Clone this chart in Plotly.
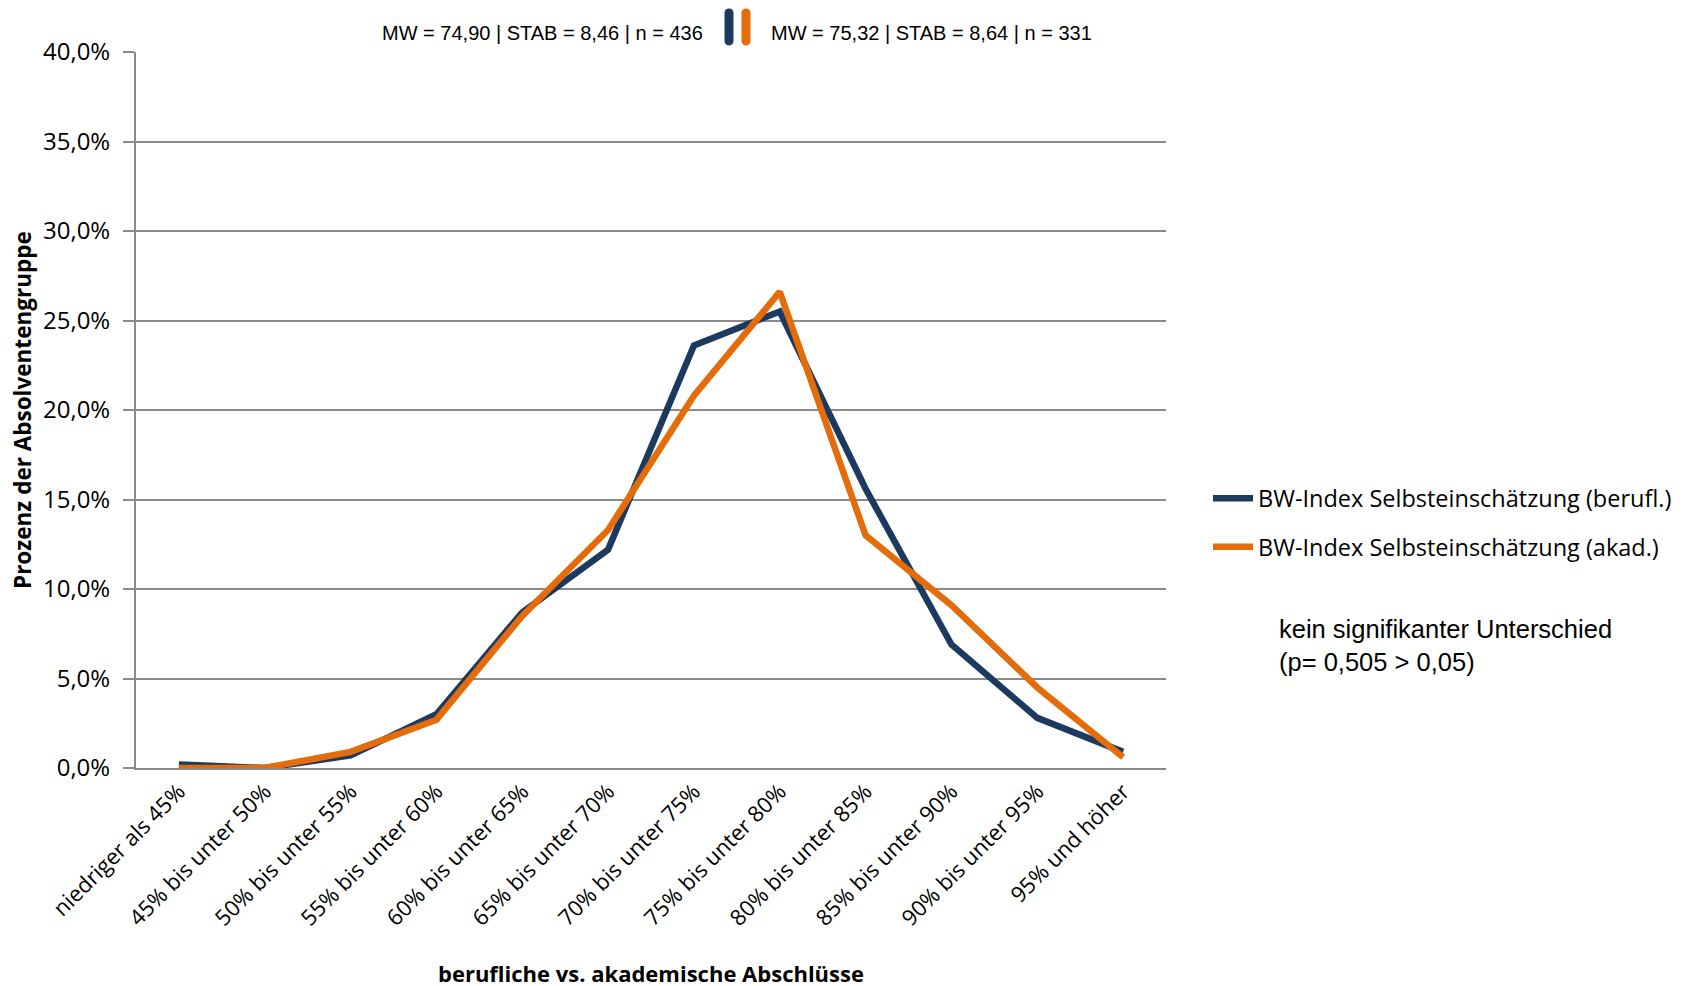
import plotly.graph_objects as go

categories = ["niedriger als 45%", "45% bis unter 50%", "50% bis unter 55%", "55% bis unter 60%",
              "60% bis unter 65%", "65% bis unter 70%", "70% bis unter 75%", "75% bis unter 80%",
              "80% bis unter 85%", "85% bis unter 90%", "90% bis unter 95%", "95% und höher"]
berufl = [0.2, 0.0, 0.7, 3.0, 8.7, 12.2, 23.6, 25.5, 15.6, 6.9, 2.8, 0.9]
akad = [0.0, 0.0, 0.9, 2.7, 8.5, 13.3, 20.8, 26.6, 13.0, 9.1, 4.5, 0.6]
name_berufl = "BW-Index Selbsteinschätzung (berufl.)"
name_akad = "BW-Index Selbsteinschätzung (akad.)"
stats_berufl = "MW = 74,90 | STAB = 8,46 | n = 436"
stats_akad = "MW = 75,32 | STAB = 8,64 | n = 331"
note = "kein signifikanter Unterschied<br>(p= 0,505 > 0,05)"
x_title = "berufliche vs. akademische Abschlüsse"
y_title = "Prozenz der Absolventengruppe"
y_ticks = [0, 5, 10, 15, 20, 25, 30, 35, 40]

NAVY = "#1C3A60"
ORANGE = "#E46C0A"
GRID = "#8A8A8A"
SANS = "Open Sans, Lato, sans-serif"
ARIAL = "Liberation Sans, Arial, sans-serif"

fig = go.Figure()
fig.add_trace(go.Scatter(x=categories, y=[v / 100 for v in berufl], mode="lines", name=name_berufl,
                         legendgroup="a", line=dict(color=NAVY, width=6.5)))
fig.add_trace(go.Scatter(x=categories, y=[v / 100 for v in akad], mode="lines", name=name_akad,
                         legendgroup="b", line=dict(color=ORANGE, width=6.5)))

W, H = 1692, 986
L, R, T, B = 128, 1158, 44, 760
PW, PH = R - L, B - T


def px(xa):
    return (xa - L) / PW


def py(ya):
    return (B - ya) / PH


fig.update_layout(
    width=W, height=H,
    margin=dict(l=L, r=W - R, t=T, b=H - B, autoexpand=False),
    paper_bgcolor="white", plot_bgcolor="white",
    separators=",.",
    font=dict(family=SANS, color="black"),
    showlegend=True,
    legend=dict(x=px(1200), xanchor="left", y=py(515), yanchor="middle",
                font=dict(size=23.5, family=SANS), tracegroupgap=15,
                itemwidth=40, bgcolor="rgba(0,0,0,0)"),
    xaxis=dict(type="category", range=[-0.5, 11.5], tickangle=-45, showgrid=False,
               showline=True, linecolor=GRID, linewidth=2, ticks="",
               tickfont=dict(size=22, family=SANS)),
    yaxis=dict(range=[0, 0.4], tickvals=[v / 100 for v in y_ticks], tickformat=".1%",
               showgrid=True, gridcolor=GRID, gridwidth=2, zeroline=False,
               showline=True, linecolor=GRID, linewidth=2,
               ticks="outside", ticklen=11, tickcolor=GRID, tickwidth=2,
               ticklabelstandoff=8,
               tickfont=dict(size=24, family=SANS)),
)

# axis titles
fig.add_annotation(xref="paper", yref="paper", x=0.5, y=py(965), text="<b>" + x_title + "</b>",
                   showarrow=False, xanchor="center", yanchor="middle",
                   font=dict(size=22, family=SANS))
fig.add_annotation(xref="paper", yref="paper", x=px(14), y=0.5, text="<b>" + y_title + "</b>",
                   showarrow=False, xanchor="center", yanchor="middle", textangle=-90,
                   font=dict(size=22.5, family=SANS))

# Top statistics text
fig.add_annotation(xref="paper", yref="paper", x=px(534), y=py(25),
                   text=stats_berufl, showarrow=False, xanchor="center", yanchor="middle",
                   font=dict(size=20, family=ARIAL))
fig.add_annotation(xref="paper", yref="paper", x=px(923), y=py(25),
                   text=stats_akad, showarrow=False, xanchor="center", yanchor="middle",
                   font=dict(size=20, family=ARIAL))

# small rounded colored bars between the statistics
r, h = 4.5, 14
pill = (f"M {-r},{-h} L {-r},{h} C {-r},{h + 1.33 * r} {r},{h + 1.33 * r} {r},{h} "
        f"L {r},{-h} C {r},{-h - 1.33 * r} {-r},{-h - 1.33 * r} {-r},{-h} Z")
for xa, col in [(721, NAVY), (738, ORANGE)]:
    fig.add_shape(type="path", xref="paper", yref="paper", xsizemode="pixel", ysizemode="pixel",
                  xanchor=px(xa), yanchor=py(19), path=pill, fillcolor=col,
                  line=dict(width=0))

# Note text
fig.add_annotation(xref="paper", yref="paper", x=px(1269), y=py(637),
                   text=note, showarrow=False, xanchor="left", yanchor="middle", align="left",
                   font=dict(size=25.5, family=ARIAL))

fig.write_html("out.html")
